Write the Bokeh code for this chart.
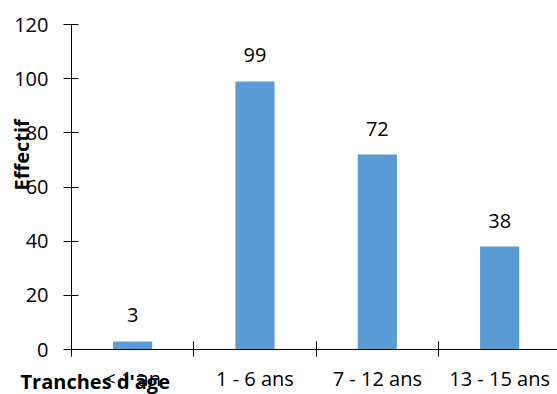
from bokeh.core.properties import value
from bokeh.embed import file_html
from bokeh.models import ColumnDataSource, FixedTicker, Range1d, Title
from bokeh.plotting import figure
from bokeh.resources import INLINE

# Age groups and head counts
categories = ["< 1 an", "1 - 6 ans", "7 - 12 ans", "13 - 15 ans"]
effectif = [3, 99, 72, 38]
y_ticks = [0, 20, 40, 60, 80, 100, 120]

FONT = "Open Sans"
BAR_COLOR = "#5B9BD5"

centers = [i + 0.5 for i in range(len(categories))]
source = ColumnDataSource(dict(
    x=centers,
    top=effectif,
    label=[str(v) for v in effectif],
))

p = figure(
    width=557, height=394,
    x_range=Range1d(0, 3.973), y_range=Range1d(0, 120),
    output_backend="svg", toolbar_location=None,
    min_border_left=71, min_border_right=0,
    min_border_top=24, min_border_bottom=43,
)
p.outline_line_color = None
p.xgrid.visible = False
p.ygrid.visible = False
p.background_fill_color = "white"
p.border_fill_color = "white"

p.vbar(x="x", top="top", width=0.32, source=source,
       fill_color=BAR_COLOR, line_color=None)

p.text(x="x", y="top", text="label", source=source,
       text_font=value(FONT), text_font_size="20px", text_color="black",
       text_align="center", text_baseline="middle", y_offset=-26)

# x axis: category names centred, tick marks at category boundaries
xa = p.xaxis[0]
xa.ticker = FixedTicker(ticks=centers,
                        minor_ticks=list(range(len(categories) + 1)))
xa.major_label_overrides = {c: name for c, name in zip(centers, categories)}
xa.major_tick_in = 0
xa.major_tick_out = 0
xa.minor_tick_in = 8
xa.minor_tick_out = 7
xa.minor_tick_line_color = "black"
xa.axis_line_color = "black"
xa.major_label_text_font = FONT
xa.major_label_text_font_size = "20px"
xa.major_label_text_color = "black"
xa.major_label_standoff = 8

# y axis
ya = p.yaxis[0]
ya.ticker = FixedTicker(ticks=y_ticks, minor_ticks=[])
ya.major_tick_in = 7
ya.major_tick_out = 8
ya.major_tick_line_color = "black"
ya.axis_line_color = "black"
ya.major_label_text_font = FONT
ya.major_label_text_font_size = "20px"
ya.major_label_text_color = "black"
ya.major_label_standoff = 15

# axis titles, pulled in over the tick label rows
title_style = dict(text_font=FONT, text_font_size="20px",
                   text_font_style="bold", text_color="black")
p.add_layout(Title(text="Effectif", align="left", offset=159,
                   standoff=-46, **title_style), "left")
p.add_layout(Title(text="Tranches d'âge", align="left", offset=-51,
                   vertical_align="top", standoff=-54, **title_style),
             "below")

open("out.html", "w").write(file_html(p, INLINE))
